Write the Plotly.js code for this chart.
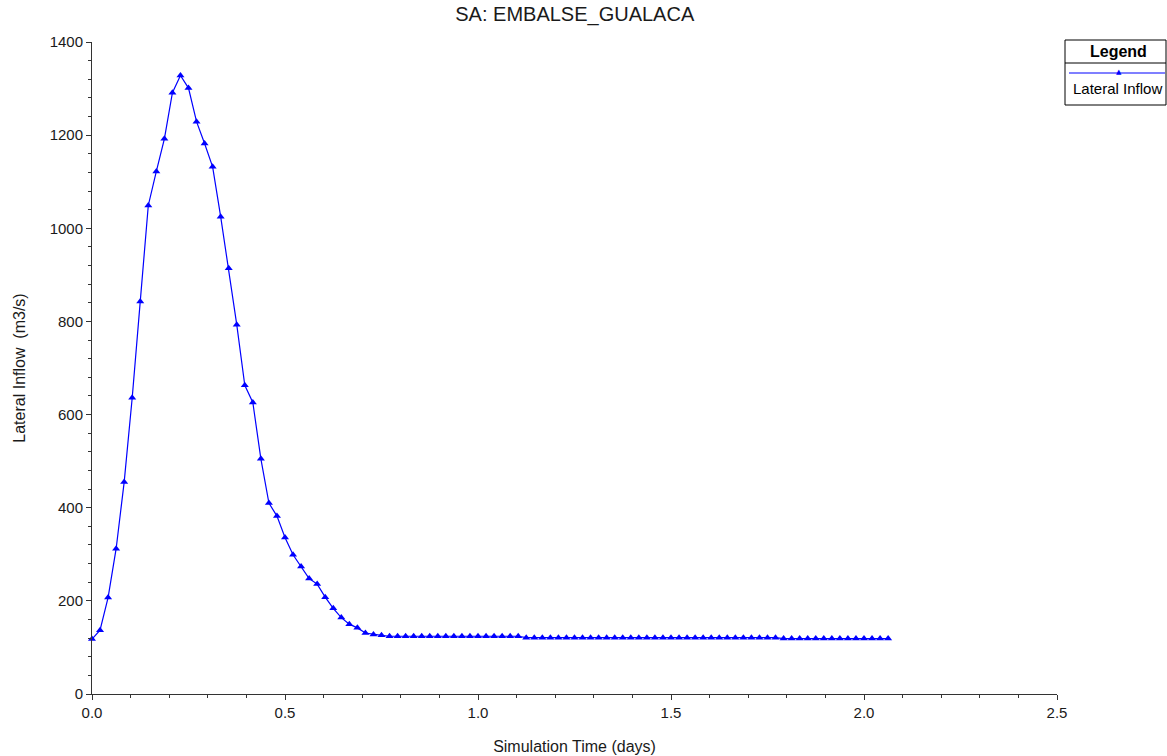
<!DOCTYPE html>
<html>
<head>
<meta charset="utf-8">
<script src="https://cdn.plot.ly/plotly-3.0.1.min.js"></script>
<style>
html,body{margin:0;padding:0;background:#fff;}
#chart{width:1167px;height:756px;}
</style>
</head>
<body>
<div id="chart"></div>
<script>
// ---- data ----
const chartTitle = "SA: EMBALSE_GUALACA";
const seriesName = "Lateral Inflow";
const xTitle = "Simulation Time (days)";
const yTitle = "Lateral Inflow  (m3/s)";
const timeStepDays = 1 / 48; // 30-minute steps
const lateralInflow = [
  118, 137, 207, 312, 455, 636, 843, 1049, 1122, 1192,
  1291, 1328, 1301, 1229, 1182, 1132, 1025, 914, 793, 663,
  626, 505, 410, 382, 336, 299, 274, 248, 236, 208,
  184, 164, 150, 142, 131, 128, 126, 124, 124, 124,
  124, 124, 124, 124, 124, 124, 124, 124, 124, 124,
  124, 124, 124, 124, 121, 121, 121, 121, 121, 121,
  121, 121, 121, 121, 121, 121, 121, 121, 121, 121,
  121, 121, 121, 121, 121, 121, 121, 121, 121, 121,
  121, 121, 121, 121, 121, 121, 119, 119, 119, 119,
  119, 119, 119, 119, 119, 119, 119, 119, 119, 119
];
const simTime = lateralInflow.map((_, i) => i * timeStepDays);

// ---- layout helpers (pixel -> paper) ----
const W = 1167, H = 756;
const M = {l: 92, r: 110, t: 42, b: 62};
const pw = W - M.l - M.r, ph = H - M.t - M.b;
const px = x => (x - M.l) / pw;
const py = y => (H - M.b - y) / ph;

const fontFam = "Liberation Sans, Arial, sans-serif";
const blue = "#0000ff";
const txt = "#1a1a1a";

const trace = {
  x: simTime,
  y: lateralInflow,
  type: "scatter",
  mode: "lines+markers",
  name: seriesName,
  line: {color: blue, width: 1.2},
  marker: {symbol: "triangle-up", size: 7, color: blue},
  showlegend: false,
  cliponaxis: false
};

const layout = {
  width: W, height: H,
  margin: M,
  paper_bgcolor: "#fff",
  plot_bgcolor: "#fff",
  font: {family: fontFam, size: 15, color: txt},
  title: {text: chartTitle, x: 0.4925, xanchor: "center", y: 0.981, yanchor: "middle",
          font: {family: fontFam, size: 20, color: txt}},
  xaxis: {
    range: [0, 2.5], dtick: 0.5, tickformat: ".1f",
    showgrid: false, zeroline: false,
    showline: true, linecolor: "#333", linewidth: 1,
    ticks: "outside", ticklen: 5, tickcolor: "#333",
    minor: {dtick: 0.1, ticks: "outside", ticklen: 3, tickcolor: "#333", showgrid: false},
    tickfont: {family: fontFam, size: 15, color: txt},
    title: {text: xTitle, standoff: 20, font: {family: fontFam, size: 16, color: txt}}
  },
  yaxis: {
    range: [0, 1400], dtick: 200,
    showgrid: false, zeroline: false,
    showline: true, linecolor: "#333", linewidth: 1,
    ticks: "outside", ticklen: 5, tickcolor: "#333",
    minor: {dtick: 40, ticks: "outside", ticklen: 3, tickcolor: "#333", showgrid: false},
    tickfont: {family: fontFam, size: 15, color: txt},
    title: {text: yTitle, standoff: 20, font: {family: fontFam, size: 16, color: txt}}
  },
  shapes: [
    {type: "rect", xref: "paper", yref: "paper", x0: px(1065), x1: px(1166), y0: py(40), y1: py(105),
     line: {color: "#000", width: 1}, fillcolor: "#fff"},
    {type: "line", xref: "paper", yref: "paper", x0: px(1065), x1: px(1166), y0: py(63), y1: py(63),
     line: {color: "#000", width: 1}},
    {type: "line", xref: "paper", yref: "paper", x0: px(1069), x1: px(1165), y0: py(73), y1: py(73),
     line: {color: blue, width: 1.2}}
  ],
  annotations: [
    {text: "<b>Legend</b>", xref: "paper", yref: "paper", x: px(1118), y: py(51),
     xanchor: "center", yanchor: "middle", showarrow: false,
     font: {family: fontFam, size: 16, color: "#000"}},
    {text: "▲", xref: "paper", yref: "paper", x: px(1119), y: py(72),
     xanchor: "center", yanchor: "middle", showarrow: false,
     font: {family: "DejaVu Sans, sans-serif", size: 7, color: blue}},
    {text: seriesName, xref: "paper", yref: "paper", x: px(1071), y: py(88),
     xanchor: "left", yanchor: "middle", showarrow: false,
     font: {family: fontFam, size: 15, color: "#000"}}
  ]
};

Plotly.newPlot("chart", [trace], layout, {displayModeBar: false, staticPlot: true});
</script>
</body>
</html>
